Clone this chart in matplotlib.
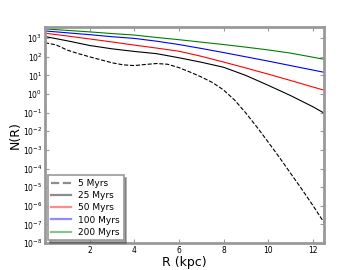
import numpy as np
import matplotlib
matplotlib.use('Agg')
import matplotlib.pyplot as plt

# radius grid (kpc)
r_fine = [0.0, 0.5, 1.0, 1.5, 2.0, 2.5, 3.0, 3.5, 4.0, 4.5, 5.0, 5.5, 6.0,
          6.5, 7.0, 7.5, 8.0, 8.5, 9.0, 9.5, 10.0, 10.5, 11.0, 11.5, 12.0, 12.5]
r_coarse = [0, 1, 2, 3, 4, 5, 6, 7, 8, 9, 10, 11, 12, 12.5]

# log10 N(R)
log_5 = [2.76, 2.64, 2.36, 2.17, 2.00, 1.84, 1.68, 1.57, 1.53, 1.59, 1.64, 1.60, 1.42,
         1.18, 0.92, 0.62, 0.22, -0.33, -1.02, -1.78, -2.58, -3.40, -4.25, -5.10, -5.98, -6.90]
log_25 = [3.09, 2.86, 2.61, 2.43, 2.29, 2.17, 1.95, 1.71, 1.44, 1.00, 0.47, -0.08, -0.68, -1.02]
log_50 = [3.27, 3.12, 2.96, 2.80, 2.63, 2.47, 2.30, 2.03, 1.72, 1.40, 1.07, 0.73, 0.38, 0.21]
log_100 = [3.39, 3.29, 3.19, 3.08, 2.99, 2.84, 2.66, 2.45, 2.23, 2.00, 1.77, 1.53, 1.29, 1.17]
log_200 = [3.50, 3.42, 3.34, 3.25, 3.17, 3.04, 2.92, 2.79, 2.66, 2.52, 2.37, 2.20, 1.98, 1.87]

labels = ['5 Myrs', '25 Myrs', '50 Myrs', '100 Myrs', '200 Myrs']

fig = plt.figure(figsize=(3.6, 2.7), dpi=100)
ax = fig.add_axes([0.125, 0.10, 0.775, 0.80])

ax.semilogy(r_fine, 10 ** np.array(log_5), 'k--', lw=0.8, label=labels[0])
ax.semilogy(r_coarse, 10 ** np.array(log_25), color='k', lw=0.8, label=labels[1])
ax.semilogy(r_coarse, 10 ** np.array(log_50), color='r', lw=0.8, label=labels[2])
ax.semilogy(r_coarse, 10 ** np.array(log_100), color='b', lw=0.8, label=labels[3])
ax.semilogy(r_coarse, 10 ** np.array(log_200), color='g', lw=0.8, label=labels[4])

ax.set_xlim(0, 12.5)
ax.set_ylim(1e-8, 4e3)
ax.set_xticks([2, 4, 6, 8, 10, 12])
ax.set_yticks([10.0 ** k for k in range(-8, 4)])
ax.yaxis.set_minor_locator(matplotlib.ticker.NullLocator())
ax.tick_params(direction='in', top=True, right=True, labelsize=5.5,
               color='#999999', length=3, width=0.8, pad=2)
for s in ax.spines.values():
    s.set_color('#999999')
    s.set_linewidth(2)

ax.set_xlabel('R (kpc)', fontsize=9, labelpad=1)
ax.set_ylabel('N(R)', fontsize=9, labelpad=1)

leg = ax.legend(loc='lower left', fontsize=6.5, shadow=True, fancybox=False,
                handlelength=2.2, borderpad=0.4, labelspacing=0.35,
                borderaxespad=0.3)
leg.get_frame().set_edgecolor('#999999')
leg.get_frame().set_linewidth(1.2)
for h in leg.get_lines():
    h.set_alpha(0.45)
    h.set_linewidth(1.6)

fig.savefig('out.png', dpi=100)
